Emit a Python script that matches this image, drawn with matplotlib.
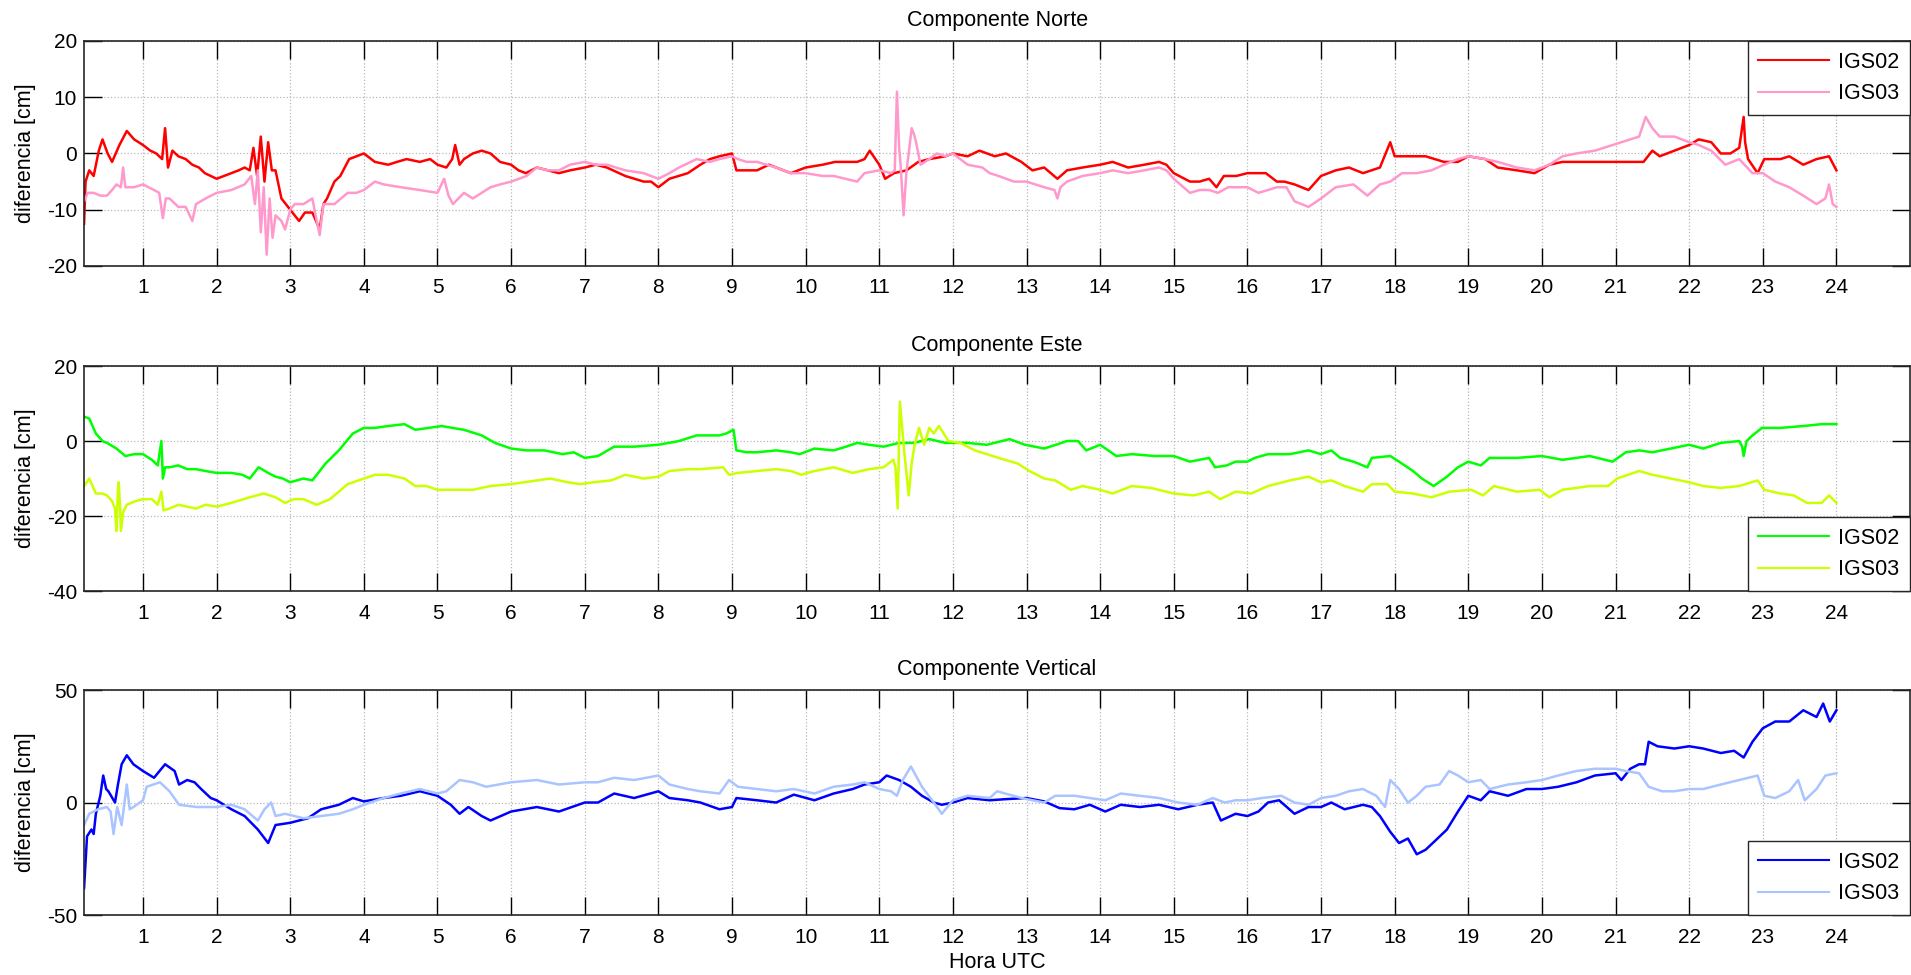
import numpy as np
import matplotlib
matplotlib.use("Agg")
import matplotlib.pyplot as plt

plt.rcParams['font.family'] = ['Liberation Sans', 'DejaVu Sans']
plt.rcParams['axes.unicode_minus'] = False

# diferencias [cm]: (hora UTC, valor)
norte_igs02 = [(0.2,-12.5),(0.22,-5),(0.27,-3),(0.33,-4),(0.4,0.5),(0.45,2.5),(0.52,0),(0.58,-1.5),(0.68,1.5),(0.78,4),
    (0.88,2.5),(1.0,1.5),(1.1,0.5),(1.18,0),(1.26,-1),(1.3,4.5),(1.34,-2.5),(1.4,0.5),(1.48,-0.5),(1.58,-1),(1.67,-2),
    (1.76,-2.5),(1.84,-3.5),(2.0,-4.5),(2.1,-4),(2.2,-3.5),(2.3,-3),(2.38,-2.5),(2.45,-3),(2.5,1),(2.55,-4),(2.6,3),
    (2.65,-5),(2.7,2),(2.75,-3),(2.8,-3),(2.88,-8),(3.0,-10),(3.12,-12),(3.2,-10.5),(3.3,-10.5),(3.4,-13.5),(3.45,-9),
    (3.5,-8),(3.6,-5),(3.68,-4),(3.8,-1),(3.9,-0.5),(4.0,0),(4.15,-1.5),(4.33,-2),(4.45,-1.5),(4.58,-1),(4.76,-1.5),
    (4.9,-1),(5.0,-2),(5.12,-2.5),(5.2,-1),(5.24,1.5),(5.3,-2),(5.36,-1),(5.48,0),(5.6,0.5),(5.72,0),(5.85,-1.5),
    (6.0,-2),(6.1,-3),(6.2,-3.5),(6.35,-2.5),(6.5,-3),(6.65,-3.5),(6.8,-3),(7.0,-2.5),(7.15,-2),(7.3,-2.5),(7.55,-4),
    (7.8,-5),(7.9,-5),(8.0,-6),(8.15,-4.5),(8.4,-3.5),(8.57,-2),(8.7,-1),(8.83,-0.5),(9.0,0),(9.06,-3),(9.2,-3),
    (9.34,-3),(9.5,-2),(9.6,-2.5),(9.8,-3.5),(10.0,-2.5),(10.23,-2),(10.4,-1.5),(10.54,-1.5),(10.7,-1.5),(10.8,-1),
    (10.87,0.5),(11.0,-2),(11.08,-4.5),(11.2,-3.5),(11.37,-3),(11.53,-1.5),(11.68,-1),(11.9,-0.5),(12.0,0),(12.2,-0.5),
    (12.36,0.5),(12.57,-0.5),(12.72,0),(12.93,-1.5),(13.08,-3),(13.24,-2.5),(13.42,-4.5),(13.55,-3),(13.76,-2.5),
    (14.0,-2),(14.17,-1.5),(14.38,-2.5),(14.6,-2),(14.8,-1.5),(14.9,-2),(15.0,-3.5),(15.22,-5),(15.35,-5),(15.48,-4.5),
    (15.58,-6),(15.68,-4),(15.85,-4),(16.0,-3.5),(16.25,-3.5),(16.4,-5),(16.5,-5),(16.64,-5.5),(16.83,-6.5),(17.0,-4),
    (17.2,-3),(17.38,-2.5),(17.57,-3.5),(17.8,-2.5),(17.94,2),(18.0,-0.5),(18.1,-0.5),(18.25,-0.5),(18.42,-0.5),
    (18.67,-1.5),(18.86,-1.5),(19.0,-0.5),(19.23,-1),(19.4,-2.5),(19.66,-3),(19.9,-3.5),(20.1,-2),(20.28,-1.5),
    (20.47,-1.5),(20.72,-1.5),(21.0,-1.5),(21.2,-1.5),(21.38,-1.5),(21.5,0.5),(21.6,-0.5),(21.8,0.5),(22.0,1.5),
    (22.13,2.5),(22.3,2),(22.43,0),(22.56,0),(22.68,1),(22.74,6.5),(22.76,2),(22.8,-1),(22.93,-3.5),(23.02,-1),
    (23.24,-1),(23.36,-0.5),(23.55,-2),(23.73,-1),(23.9,-0.5),(24.0,-3)]

norte_igs03 = [(0.2,-8.5),(0.25,-7),(0.33,-7),(0.42,-7.5),(0.51,-7.5),(0.58,-6.5),(0.64,-5.5),(0.7,-6),(0.73,-2.5),
    (0.76,-6),(0.88,-6),(1.0,-5.5),(1.15,-6.5),(1.22,-7),(1.27,-11.5),(1.31,-8),(1.36,-8),(1.48,-9.5),(1.58,-9.5),
    (1.67,-12),(1.72,-9),(1.85,-8),(2.0,-7),(2.2,-6.5),(2.38,-5.5),(2.47,-4),(2.52,-9),(2.56,-3),(2.6,-14),(2.64,-6),
    (2.68,-18),(2.72,-8),(2.76,-15),(2.8,-11),(2.88,-12),(2.93,-13.5),(3.0,-10),(3.06,-9),(3.18,-9),(3.3,-8),
    (3.36,-12),(3.4,-14.5),(3.45,-9),(3.6,-9),(3.78,-7),(3.9,-7),(4.0,-6.5),(4.15,-5),(4.27,-5.5),(4.5,-6),
    (4.76,-6.5),(5.0,-7),(5.09,-4.5),(5.15,-7.5),(5.21,-9),(5.36,-7),(5.48,-8),(5.6,-7),(5.72,-6),(5.85,-5.5),
    (6.0,-5),(6.21,-4),(6.35,-2.5),(6.5,-3),(6.65,-3),(6.8,-2),(7.0,-1.5),(7.15,-2),(7.3,-2),(7.55,-3),(7.8,-3.5),
    (8.0,-4.5),(8.15,-3.5),(8.28,-2.5),(8.52,-1),(8.7,-1.5),(8.83,-1),(9.0,-0.5),(9.08,-1),(9.2,-1.5),(9.34,-1.5),
    (9.6,-2.5),(9.8,-3.5),(10.0,-3.5),(10.23,-4),(10.38,-4),(10.54,-4.5),(10.7,-5),(10.8,-3.5),(11.0,-3),
    (11.16,-3.5),(11.21,-3),(11.24,11),(11.27,1),(11.29,-2),(11.33,-11),(11.37,-3),(11.4,0),(11.44,4.5),(11.47,3.5),
    (11.5,2),(11.56,-2),(11.68,-1),(11.78,0),(11.9,-0.5),(12.0,0),(12.2,-2),(12.4,-2.5),(12.5,-3.5),(12.62,-4),
    (12.83,-5),(13.0,-5),(13.24,-6),(13.38,-6.5),(13.42,-8),(13.46,-6),(13.55,-5),(13.76,-4),(14.0,-3.5),(14.17,-3),
    (14.38,-3.5),(14.6,-3),(14.8,-2.5),(14.9,-3),(15.0,-4.5),(15.22,-7),(15.35,-6.5),(15.48,-6.5),(15.6,-7),
    (15.74,-6),(16.0,-6),(16.15,-7),(16.28,-6.5),(16.4,-6),(16.53,-6),(16.64,-8.5),(16.83,-9.5),(17.0,-8),(17.2,-6),
    (17.44,-5.5),(17.63,-7.5),(17.8,-5.5),(17.94,-5),(18.1,-3.5),(18.3,-3.5),(18.5,-3),(18.67,-2),(18.86,-1),
    (19.0,-0.5),(19.23,-1),(19.4,-1.5),(19.66,-2.5),(19.9,-3),(20.1,-2),(20.28,-0.5),(20.47,0),(20.72,0.5),
    (20.96,1.5),(21.2,2.5),(21.32,3),(21.41,6.5),(21.5,4.5),(21.6,3),(21.8,3),(22.0,2),(22.13,1.5),(22.3,0.5),
    (22.49,-2),(22.68,-1),(22.86,-3.5),(23.0,-3.5),(23.17,-5),(23.36,-6),(23.55,-7.5),(23.73,-9),(23.85,-8),
    (23.9,-5.5),(23.95,-9),(24.0,-9.5)]

este_igs02 = [(0.2,6.5),(0.27,6),(0.36,2),(0.45,0),(0.51,-0.5),(0.64,-2),(0.76,-4),(0.88,-3.5),(1.0,-3.5),(1.12,-5),
    (1.2,-6.5),(1.25,0),(1.27,-10),(1.3,-7),(1.36,-7),(1.48,-6.5),(1.6,-7.5),(1.72,-7.5),(1.85,-8),(2.0,-8.5),
    (2.2,-8.5),(2.35,-9),(2.45,-10),(2.57,-7),(2.7,-8.5),(2.8,-9.5),(2.9,-10),(3.0,-11),(3.18,-10),(3.3,-10.5),
    (3.48,-6),(3.66,-2.5),(3.85,2),(4.0,3.5),(4.15,3.5),(4.33,4),(4.55,4.5),(4.7,3),(4.88,3.5),(5.06,4),(5.2,3.5),
    (5.36,3),(5.6,1.5),(5.78,-0.5),(6.0,-2),(6.21,-2.5),(6.45,-2.5),(6.7,-3.5),(6.85,-3),(7.0,-4.5),(7.18,-4),
    (7.4,-1.5),(7.67,-1.5),(8.0,-1),(8.28,0),(8.52,1.5),(8.7,1.5),(8.83,1.5),(8.92,2),(9.02,3),(9.06,-2.5),(9.2,-3),
    (9.34,-3),(9.6,-2.5),(9.8,-3),(9.92,-3.5),(10.12,-2),(10.38,-2.5),(10.55,-1.5),(10.7,-0.5),(10.86,-1),
    (11.06,-1.5),(11.27,-0.5),(11.47,-0.5),(11.68,0.5),(11.9,-0.5),(12.0,-0.5),(12.2,-0.5),(12.46,-1),(12.77,0.5),
    (12.98,-1),(13.24,-2),(13.4,-1),(13.55,0),(13.7,0),(13.81,-2.5),(14.0,-1),(14.22,-4),(14.43,-3.5),(14.74,-4),
    (15.0,-4),(15.22,-5.5),(15.48,-4.5),(15.56,-7),(15.72,-6.5),(15.84,-5.5),(16.0,-5.5),(16.1,-4.5),(16.28,-3.5),
    (16.58,-3.5),(16.83,-2.5),(17.0,-3.5),(17.14,-2.5),(17.26,-4.5),(17.44,-5.5),(17.63,-7),(17.69,-4.5),(17.94,-4),
    (18.06,-5.5),(18.25,-8),(18.37,-10),(18.53,-12),(18.71,-9.5),(18.86,-7),(19.0,-5.5),(19.17,-6.5),(19.29,-4.5),
    (19.66,-4.5),(20.0,-4),(20.28,-5),(20.65,-4),(20.96,-5.5),(21.14,-3),(21.32,-2.5),(21.5,-3),(21.75,-2),(22.0,-1),
    (22.19,-2),(22.43,-0.5),(22.68,0),(22.72,-1.5),(22.74,-4),(22.78,0),(22.86,1.5),(22.99,3.5),(23.24,3.5),
    (23.55,4),(23.8,4.5),(24.0,4.5)]

este_igs03 = [(0.2,-12),(0.27,-10),(0.36,-14),(0.45,-14),(0.51,-14.5),(0.58,-16),(0.62,-18),(0.64,-24),(0.66,-13),
    (0.67,-11),(0.69,-18),(0.7,-24),(0.73,-19),(0.78,-17),(0.9,-16),(1.0,-15.5),(1.12,-15.5),(1.2,-17),(1.25,-13.5),
    (1.28,-18.5),(1.36,-18),(1.48,-17),(1.6,-17.5),(1.72,-18),(1.85,-17),(2.0,-17.5),(2.2,-16.5),(2.45,-15),
    (2.64,-14),(2.8,-15),(2.93,-16.5),(3.05,-15.5),(3.18,-15.5),(3.36,-17),(3.54,-15.5),(3.78,-11.5),(4.0,-10),
    (4.15,-9),(4.33,-9),(4.55,-10),(4.7,-12),(4.85,-12),(5.0,-13),(5.24,-13),(5.48,-13),(5.72,-12),(6.0,-11.5),
    (6.35,-10.5),(6.53,-10),(6.77,-11),(6.94,-11.5),(7.12,-11),(7.36,-10.5),(7.55,-9),(7.8,-10),(8.0,-9.5),(8.15,-8),
    (8.4,-7.5),(8.57,-7.5),(8.88,-7),(8.96,-9),(9.08,-8.5),(9.34,-8),(9.6,-7.5),(9.8,-8),(9.94,-9),(10.12,-8),
    (10.38,-7),(10.64,-8.5),(10.86,-7.5),(11.06,-7),(11.19,-5),(11.22,-7),(11.25,-18),(11.28,10.5),(11.34,-3),
    (11.4,-14.5),(11.44,-6),(11.48,-1),(11.54,3.5),(11.61,-1),(11.68,3.5),(11.74,2),(11.81,4),(11.94,0),(12.1,-0.5),
    (12.3,-2.5),(12.62,-4.5),(12.88,-6),(13.04,-8),(13.24,-10),(13.39,-10.5),(13.6,-13),(13.76,-12),(14.0,-13),
    (14.17,-14),(14.43,-12),(14.69,-12.5),(15.0,-14),(15.27,-14.5),(15.48,-13.5),(15.63,-15.5),(15.84,-13.5),
    (16.05,-14),(16.28,-12),(16.58,-10.5),(16.83,-9.5),(17.0,-11),(17.14,-10.5),(17.32,-12),(17.57,-13.5),
    (17.69,-11.5),(17.9,-11.5),(18.0,-13.5),(18.25,-14),(18.5,-15),(18.74,-13.5),(19.04,-13),(19.2,-14.5),
    (19.35,-12),(19.66,-13.5),(19.97,-13),(20.1,-15),(20.28,-13),(20.65,-12),(20.9,-12),(21.02,-10),(21.32,-8),
    (21.5,-9),(21.75,-10),(22.0,-11),(22.19,-12),(22.43,-12.5),(22.68,-12),(22.93,-10.5),(23.02,-13),(23.24,-14),
    (23.42,-14.5),(23.6,-16.5),(23.8,-16.5),(23.9,-14.5),(24.0,-16.5)]

vertical_igs02 = [(0.2,-38),(0.24,-15),(0.3,-12),(0.33,-14),(0.36,-5),(0.42,3),(0.46,12),(0.5,6),(0.53,5),(0.62,0),
    (0.66,8),(0.71,17),(0.78,21),(0.87,17),(1.0,14),(1.15,11),(1.3,17),(1.43,14),(1.49,8),(1.6,10),(1.7,9),(1.79,6),
    (1.92,2),(2.0,1),(2.2,-3),(2.38,-6),(2.56,-12),(2.7,-18),(2.8,-10),(3.0,-9),(3.24,-7),(3.42,-3),(3.66,-1),
    (3.85,2),(4.0,0.5),(4.27,2),(4.5,3),(4.76,5),(5.0,3),(5.18,-1),(5.3,-5),(5.42,-2),(5.6,-6),(5.72,-8),(6.0,-4),
    (6.35,-2),(6.65,-4),(7.0,0),(7.18,0),(7.4,4),(7.67,2),(8.0,5),(8.15,2),(8.4,1),(8.57,0),(8.83,-3),(9.0,-2),
    (9.06,2),(9.34,1),(9.6,0),(9.84,3.5),(10.12,1),(10.38,4),(10.64,6),(10.8,8),(11.0,9),(11.1,12),(11.27,10),
    (11.43,7),(11.58,3),(11.74,0),(11.85,-1),(12.0,0),(12.2,2),(12.5,1),(12.72,1.5),(13.0,2),(13.24,0.5),
    (13.45,-2.5),(13.65,-3),(13.86,-1),(14.07,-4),(14.28,-1),(14.54,-2),(14.8,-1),(15.06,-3),(15.32,-1),(15.53,0),
    (15.64,-8),(15.84,-5),(16.0,-6),(16.15,-4),(16.28,0),(16.43,1),(16.64,-5),(16.83,-2),(17.0,-2),(17.14,0),
    (17.32,-3),(17.57,-1),(17.69,-2),(17.8,-6),(17.94,-13),(18.06,-18),(18.18,-16),(18.3,-23),(18.42,-21),
    (18.55,-17),(18.71,-12),(18.86,-4),(19.0,3),(19.17,1),(19.29,5),(19.54,3),(19.79,6),(20.0,6),(20.22,7),
    (20.47,9),(20.72,12),(21.0,13),(21.08,10),(21.2,15),(21.32,17),(21.4,17),(21.45,27),(21.57,25),(21.8,24),
    (22.0,25),(22.19,24),(22.43,22),(22.61,23),(22.74,20),(22.86,27),(23.0,33),(23.17,36),(23.36,36),(23.55,41),
    (23.73,38),(23.82,44),(23.91,36),(24.0,41)]

vertical_igs03 = [(0.2,-10),(0.27,-5),(0.39,-3),(0.51,-2),(0.56,-4),(0.6,-14),(0.65,-2),(0.71,-10),(0.78,8),
    (0.82,-3),(0.87,-2),(1.0,1),(1.05,7),(1.23,9),(1.36,5),(1.49,-1),(1.73,-2),(2.0,-2),(2.2,-1),(2.38,-3),
    (2.56,-8),(2.65,-3),(2.74,0),(2.8,-6),(2.93,-5),(3.18,-7),(3.42,-6),(3.66,-5),(3.85,-3),(4.0,-1),(4.27,2),
    (4.5,4),(4.76,6),(5.0,4),(5.12,5),(5.3,10),(5.48,9),(5.66,7),(6.0,9),(6.35,10),(6.65,8),(7.0,9),(7.18,9),
    (7.4,11),(7.67,10),(8.0,12),(8.15,8),(8.4,6),(8.57,5),(8.83,4),(8.96,10),(9.08,7),(9.34,6),(9.6,5),(9.84,6),
    (10.12,4),(10.38,7),(10.64,8),(10.8,9),(11.0,6),(11.16,5),(11.24,3),(11.32,10),(11.43,16),(11.58,7),(11.74,0),
    (11.85,-5),(12.0,1),(12.2,3),(12.5,2),(12.6,5),(12.82,3),(13.0,1.5),(13.24,0),(13.39,3),(13.65,3),(13.86,2),
    (14.07,1),(14.28,4),(14.54,3),(14.8,2),(15.06,0),(15.32,-1),(15.53,2),(15.69,0),(15.84,1),(16.0,1),(16.2,2),
    (16.46,3),(16.64,0),(16.83,-1),(17.0,2),(17.2,3),(17.38,5),(17.57,6),(17.75,3),(17.87,-2),(17.94,10),(18.06,6),
    (18.18,0),(18.3,3),(18.42,7),(18.61,8),(18.74,14),(18.86,12),(19.0,9),(19.17,10),(19.29,6),(19.54,8),(19.79,9),
    (20.0,10),(20.22,12),(20.47,14),(20.72,15),(21.0,15),(21.14,14),(21.32,13),(21.45,7),(21.63,5),(21.8,5),(22.0,6),
    (22.19,6),(22.43,8),(22.68,10),(22.93,12),(23.02,3),(23.17,2),(23.36,5),(23.48,10),(23.57,1),(23.73,6),
    (23.85,12),(24.0,13)]

horas_ticks = list(range(1, 25))
etiquetas = ['IGS02', 'IGS03']

paneles = [
    ('Componente Norte', norte_igs02, norte_igs03, ['#ff0000', '#ff99cc'], (-20, 20), [-20, -10, 0, 10, 20], 'upper right'),
    ('Componente Este', este_igs02, este_igs03, ['#00ff00', '#ccff00'], (-40, 20), [-40, -20, 0, 20], 'lower right'),
    ('Componente Vertical', vertical_igs02, vertical_igs03, ['#0000ff', '#aac4ff'], (-50, 50), [-50, 0, 50], 'lower right'),
]

fig = plt.figure(figsize=(19.11, 9.75), dpi=100)
bottoms = [0.7272, 0.3938, 0.0615]

for (titulo, s2, s3, colores, ylim, yticks, loc), b in zip(paneles, bottoms):
    ax = fig.add_axes([0.044, b, 0.9555, 0.2308])
    for serie, c, lab in zip([s2, s3], colores, etiquetas):
        d = np.array(serie)
        ax.plot(d[:, 0], d[:, 1], color=c, lw=1.8, label=lab)
    ax.set_xlim(0.2, 25)
    ax.set_ylim(*ylim)
    ax.set_xticks(horas_ticks)
    ax.set_yticks(yticks)
    ax.grid(True, color='#b8b8b8', linestyle=':', linewidth=0.9)
    ax.tick_params(direction='in', length=13, width=1, top=True, right=True, labelsize=15, colors='#262626')
    ax.tick_params(axis='x', pad=9, colors='black')
    ax.tick_params(axis='y', pad=5, colors='black')
    for sp in ax.spines.values():
        sp.set_color('#262626')
        sp.set_linewidth(1.2)
    ax.set_title(titulo, fontsize=15.5, pad=11)
    ax.set_ylabel('diferencia [cm]', fontsize=15.5, labelpad=8)
    leg = ax.legend(loc=loc, fontsize=15.5, fancybox=False, framealpha=1, edgecolor='#262626',
                    handlelength=3.3, handletextpad=0.4, borderaxespad=0, borderpad=0.5, labelspacing=0.5)
    leg.get_frame().set_linewidth(1)
    for ln in leg.get_lines():
        ln.set_linewidth(1.5)

ax.set_xlabel('Hora UTC', fontsize=15.5, labelpad=4)

fig.savefig('out.png', dpi=100)
